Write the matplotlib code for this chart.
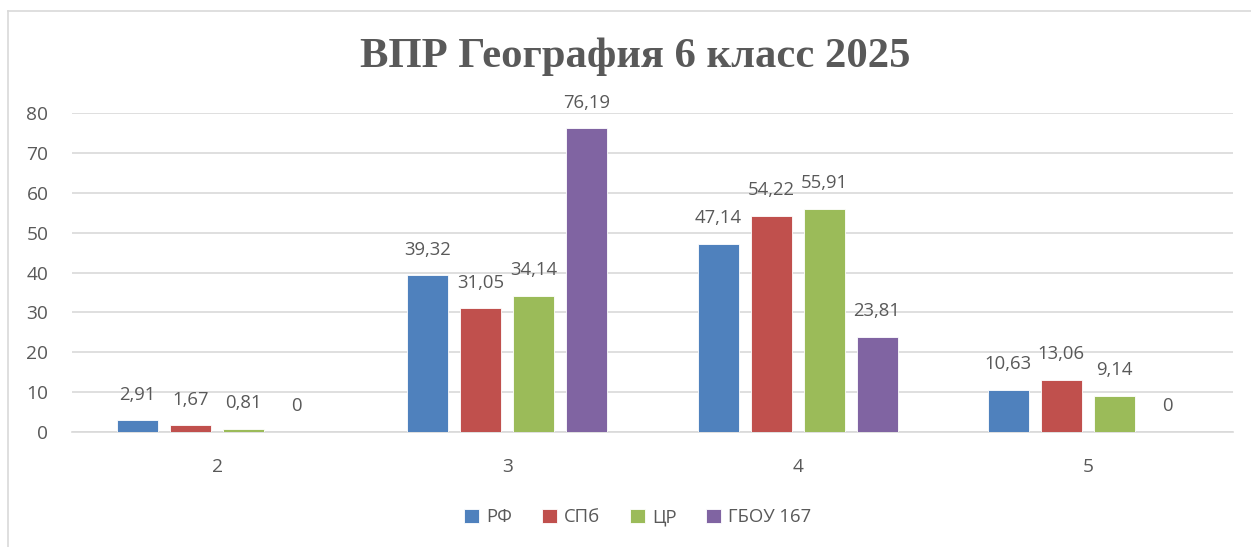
import matplotlib
matplotlib.use("Agg")
import matplotlib.pyplot as plt
import numpy as np
from matplotlib.lines import Line2D

categories = ["2", "3", "4", "5"]
series_names = ["РФ", "СПб", "ЦР", "ГБОУ 167"]
rf = [2.91, 39.32, 47.14, 10.63]
spb = [1.67, 31.05, 54.22, 13.06]
cr = [0.81, 34.14, 55.91, 9.14]
gbou = [0, 76.19, 23.81, 0]
colors = ["#4F81BD", "#C0504D", "#9BBB59", "#8064A2"]
title = "ВПР География 6 класс 2025"

W, H = 1251, 547
fig = plt.figure(figsize=(W / 100, H / 100), dpi=100)
txt = "#595959"
plt.rcParams['font.family'] = ['Open Sans', 'DejaVu Sans']

# chart border (top and left visible)
fig.add_artist(Line2D([8 / W, 1], [1 - 11 / H, 1 - 11 / H], color="#d9d9d9", lw=1.2))
fig.add_artist(Line2D([8 / W, 8 / W], [0, 1 - 11 / H], color="#d9d9d9", lw=1.2))

ax = fig.add_axes([72 / W, 115 / H, (1233 - 72) / W, (432 - 113) / H])
x = np.arange(len(categories))
bw = 41 / 290.25
step = 53 / 290.25
all_series = [rf, spb, cr, gbou]
for i, (vals, c, name) in enumerate(zip(all_series, colors, series_names)):
    pos = x + (i - 1.5) * step
    ax.bar(pos, vals, width=bw, color=c, label=name, zorder=3,
           edgecolor="white", linewidth=0.6)
    for p, v in zip(pos, vals):
        lab = f"{v:.2f}".replace(".", ",") if v != 0 else "0"
        ax.annotate(lab, (p, v), xytext=(0, 12), textcoords="offset points",
                    ha="center", va="bottom", fontsize=13.3, color=txt)

ax.set_xlim(-0.5, 3.5)
ax.set_ylim(0, 80)
ax.set_yticks(range(0, 81, 10))
ax.set_xticks(x)
ax.set_xticklabels(categories)
ax.grid(axis="y", color="#d9d9d9", lw=1.2, zorder=0)
for s in ["top", "right", "left"]:
    ax.spines[s].set_visible(False)
ax.spines["bottom"].set_color("#d9d9d9")
ax.spines["bottom"].set_linewidth(1.2)
ax.tick_params(axis="both", length=0, labelsize=13.8, colors=txt)
ax.tick_params(axis="x", pad=19)
ax.tick_params(axis="y", pad=17)

fig.text(635 / W, 1 - 57 / H, title, ha="center", va="center",
         fontsize=30.7, fontweight="bold", color=txt, family="Liberation Serif")

leg = fig.legend(loc="center", bbox_to_anchor=(638 / W, 1 - 517 / H), ncol=4,
                 frameon=False, fontsize=13.3, handlelength=0.8, handleheight=0.8,
                 handletextpad=0.4, columnspacing=1.6)
for t in leg.get_texts():
    t.set_color(txt)

fig.savefig("out.png", dpi=100)
